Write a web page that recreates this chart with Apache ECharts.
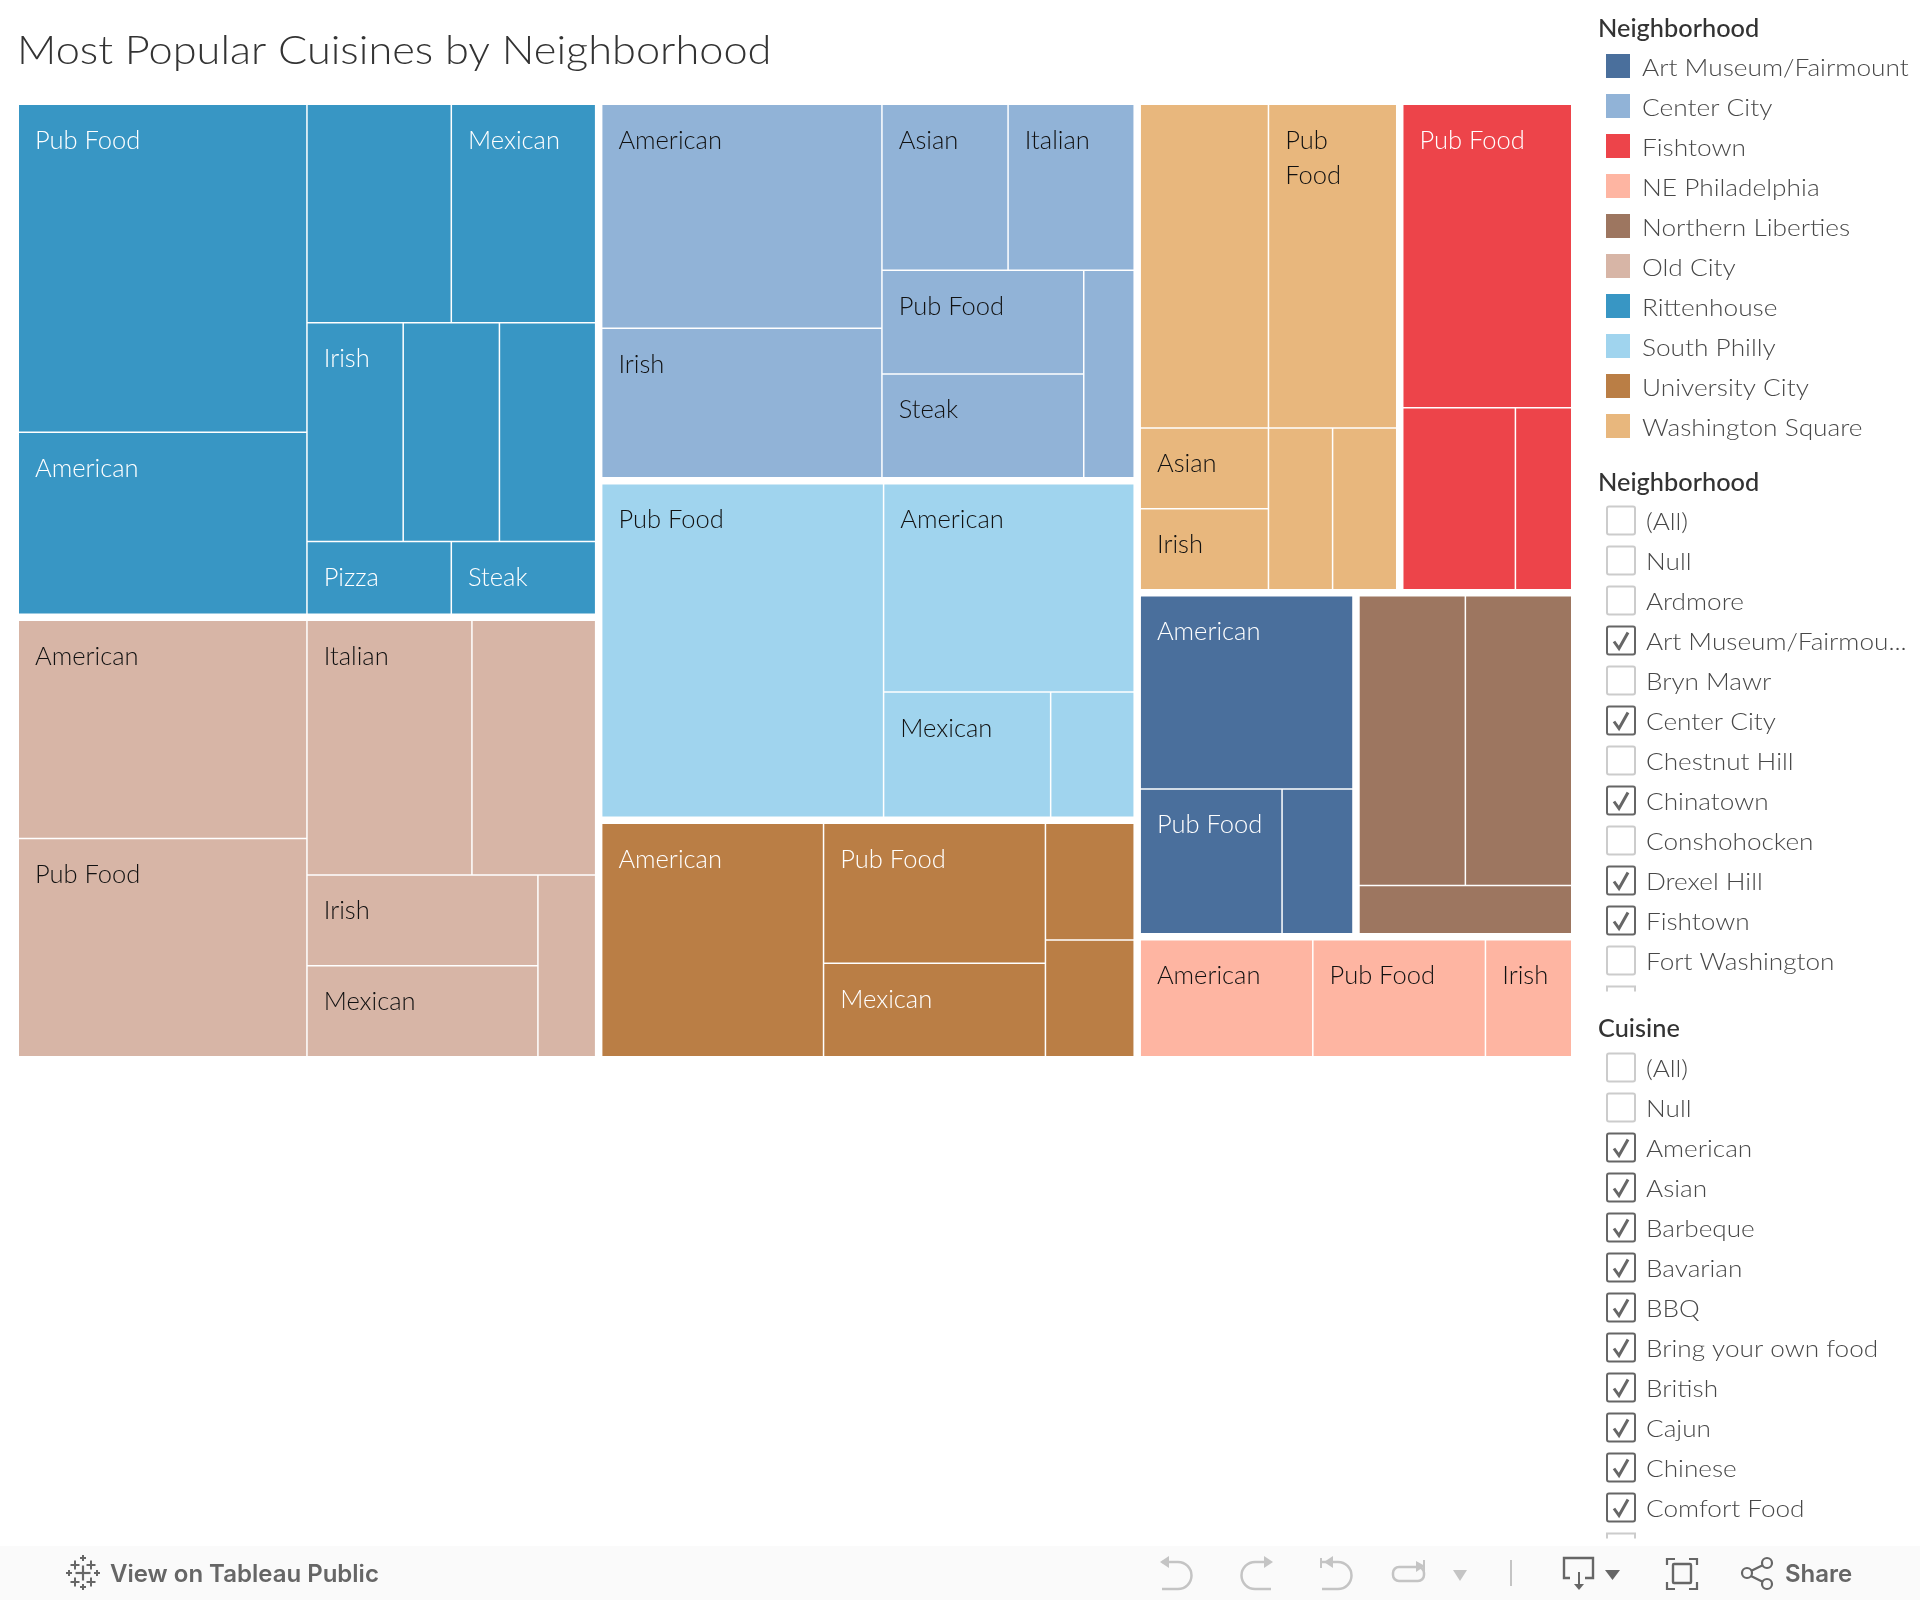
<!DOCTYPE html>
<html><head><meta charset="utf-8">
<style>html,body{margin:0;padding:0;background:#fff}#c{width:1920px;height:1600px}</style>
<script src="https://cdn.jsdelivr.net/npm/echarts@6/dist/echarts.min.js"></script>
</head><body><div id="c"></div>
<script>
const chartTitle = 'Most Popular Cuisines by Neighborhood';
// Treemap: counts per cuisine; '' = cell without a visible label
const rittenhouseNames = ['Pub Food','American','','Mexican','Irish','','','Pizza','Steak'];
const rittenhouseValues = [9,5,3,3,2,2,2,1,1];
const oldCityNames = ['American','Pub Food','Italian','','Irish','Mexican',''];
const oldCityValues = [6,6,4,3,2,2,1];
const centerCityNames = ['American','Irish','Asian','Italian','Pub Food','Steak',''];
const centerCityValues = [6,4,2,2,2,2,1];
const southPhillyNames = ['Pub Food','American','Mexican',''];
const southPhillyValues = [9,5,2,1];
const universityCityNames = ['American','Pub Food','Mexican','',''];
const universityCityValues = [5,3,2,1,1];
const washingtonSquareNames = ['','Pub\nFood','Asian','Irish','',''];
const washingtonSquareValues = [4,4,1,1,1,1];
const fishtownNames = ['Pub Food','',''];
const fishtownValues = [5,2,1];
const artMuseumNames = ['American','Pub Food',''];
const artMuseumValues = [4,2,1];
const northernLibertiesNames = ['','',''];
const northernLibertiesValues = [3,3,1];
const nePhiladelphiaNames = ['American','Pub Food','Irish'];
const nePhiladelphiaValues = [2,2,1];

const groupOrder = [
  ['Rittenhouse', rittenhouseNames, rittenhouseValues, '#3896c4', '#ffffff'],
  ['Old City', oldCityNames, oldCityValues, '#d7b5a6', '#111111'],
  ['Center City', centerCityNames, centerCityValues, '#91b3d7', '#111111'],
  ['South Philly', southPhillyNames, southPhillyValues, '#a0d4ee', '#111111'],
  ['University City', universityCityNames, universityCityValues, '#ba7e45', '#ffffff'],
  ['Washington Square', washingtonSquareNames, washingtonSquareValues, '#e8b77d', '#111111'],
  ['Fishtown', fishtownNames, fishtownValues, '#ed444a', '#ffffff'],
  ['Art Museum/Fairmount', artMuseumNames, artMuseumValues, '#4a6f9c', '#ffffff'],
  ['Northern Liberties', northernLibertiesNames, northernLibertiesValues, '#9d7660', '#ffffff'],
  ['NE Philadelphia', nePhiladelphiaNames, nePhiladelphiaValues, '#feb5a2', '#111111']
];

const legendTitle = 'Neighborhood';
const legendNames = ['Art Museum/Fairmount','Center City','Fishtown','NE Philadelphia','Northern Liberties','Old City','Rittenhouse','South Philly','University City','Washington Square'];
const legendColors = ['#4a6f9c','#91b3d7','#ed444a','#feb5a2','#9d7660','#d7b5a6','#3896c4','#a0d4ee','#ba7e45','#e8b77d'];
const filter1Title = 'Neighborhood';
const filter1Names = ['(All)','Null','Ardmore','Art Museum/Fairmou...','Bryn Mawr','Center City','Chestnut Hill','Chinatown','Conshohocken','Drexel Hill','Fishtown','Fort Washington'];
const filter1Checked = [0,0,0,1,0,1,0,1,0,1,1,0];
const filter2Title = 'Cuisine';
const filter2Names = ['(All)','Null','American','Asian','Barbeque','Bavarian','BBQ','Bring your own food','British','Cajun','Chinese','Comfort Food'];
const filter2Checked = [0,0,1,1,1,1,1,1,1,1,1,1];

const F = 'Lato, "Open Sans", sans-serif';
const F2 = 'Inter, Roboto, sans-serif';
const G = [];
function text(t,x,y,size,fill,weight,sx,align,fam){
  G.push({type:'text',x:x,y:y,scaleX:sx||1,silent:true,style:{text:t,x:0,y:0,font:(weight||400)+' '+size+'px '+(fam||F),fill:fill,textAlign:align||'left',textVerticalAlign:'middle'}});
}
function line(pts,stroke,w,fill){
  G.push({type:'polyline',silent:true,shape:{points:pts},style:{stroke:stroke,lineWidth:w,fill:fill||null}});
}
function arc(cx,cy,r,a0,a1,stroke,w){
  G.push({type:'arc',silent:true,shape:{cx:cx,cy:cy,r:r,startAngle:a0,endAngle:a1,clockwise:true},style:{stroke:stroke,lineWidth:w,fill:null}});
}
function poly(pts,fill){
  G.push({type:'polygon',silent:true,shape:{points:pts},style:{fill:fill}});
}
function box(x,y,w,h,r,stroke,lw,fill){
  G.push({type:'rect',silent:true,shape:{x:x,y:y,width:w,height:h,r:r},style:{stroke:stroke,lineWidth:lw,fill:fill||null}});
}
// title
text(chartTitle,17,51,40,'#333333',300,1.083);
// colour legend
text(legendTitle,1598,29,24,'#333333',500,1.056);
legendNames.forEach((n,i)=>{
  G.push({type:'rect',silent:true,shape:{x:1606,y:54+40*i,width:24,height:24},style:{fill:legendColors[i]}});
  text(n,1642,68+40*i,24,'#484848',300,1.095);
});
// filters
function checklist(title,titleY,y0,names,checked){
  text(title,1598,titleY,24,'#333333',500,1.056);
  names.forEach((n,i)=>{
    const c=y0+40*i;
    box(1607,c-14,28,28,2,checked[i]?'#666666':'#cccccc',2,'#ffffff');
    if(checked[i]) line([[1614,c+1],[1619,c+8],[1628,c-8]],'#666666',3);
    text(n,1646,c+2,24,'#484848',300,1.09);
  });
  const y=y0+40*names.length-14;
  line([[1607,y+5],[1607,y],[1635,y],[1635,y+5]],'#cccccc',2);
}
checklist(filter1Title,483,520.5,filter1Names,filter1Checked);
checklist(filter2Title,1029,1067.5,filter2Names,filter2Checked);
// toolbar
G.push({type:'rect',silent:true,z:5,shape:{x:0,y:1546,width:1920,height:54},style:{fill:'#fafafa'}});
const gz=G.length;
function cross(cx,cy,a,w){line([[cx-a,cy],[cx+a,cy]],'#666666',w);line([[cx,cy-a],[cx,cy+a]],'#666666',w);}
cross(83,1573,7.5,2.2);
[[75,1565],[91,1565],[75,1582],[91,1582]].forEach(p=>cross(p[0],p[1],4.5,2));
[[83,1558],[83,1587],[69,1573],[97,1573]].forEach(p=>cross(p[0],p[1],3,2));
text('View on Tableau Public',110,1575,24,'#666666',600,1,'left',F2);
const off='#c4c4c4', on='#666666';
const P=Math.PI;
// undo
line([[1162,1562],[1178,1562]],off,2.5); arc(1178,1575.5,13.5,-P/2,P/2,off,2.5); line([[1178,1589],[1162,1589]],off,2.5);
poly([[1160,1562],[1169,1556],[1169,1568]],off);
// redo
line([[1270,1562],[1255,1562]],off,2.5); arc(1255,1575.5,13.5,P/2,-P/2,off,2.5); line([[1255,1589],[1271,1589]],off,2.5);
poly([[1273,1562],[1264,1556],[1264,1568]],off);
// undo all
line([[1322,1562],[1338,1562]],off,2.5); arc(1338,1575.5,13.5,-P/2,P/2,off,2.5); line([[1338,1589],[1322,1589]],off,2.5);
poly([[1324,1562],[1333,1556],[1333,1568]],off); line([[1321,1558],[1321,1568]],off,2);
// redo all
box(1393,1567,31,14,6,off,2.5); poly([[1425,1566],[1416,1561],[1416,1572]],off); line([[1424,1560],[1424,1572]],off,2);
poly([[1453,1570],[1467,1570],[1460,1581]],off);
// separator
line([[1511,1560],[1511,1586]],off,2);
// download
line([[1570,1578],[1564,1578],[1564,1558],[1593,1558],[1593,1578],[1585,1578]],on,2.4);
line([[1579,1572],[1579,1584]],on,2); poly([[1574,1584],[1584,1584],[1579,1590]],on);
poly([[1605,1570],[1620,1570],[1612.5,1580]],on);
// fullscreen
box(1673,1564,18,19,1,on,2.4);
line([[1667,1565],[1667,1559],[1675,1559]],on,2.2); line([[1689,1559],[1697,1559],[1697,1565]],on,2.2);
line([[1667,1582],[1667,1589],[1675,1589]],on,2.2); line([[1689,1589],[1697,1589],[1697,1582]],on,2.2);
// share
line([[1751,1571],[1763,1565]],on,2.2); line([[1751,1576],[1763,1582]],on,2.2);
box(1742,1568,10,10,5,on,2.2); box(1762,1558,10,10,5,on,2.2); box(1762,1579,10,10,5,on,2.2);
text('Share',1785,1575,24,'#666666',600,1,'left',F2);
for(let i=gz;i<G.length;i++) G[i].z=6;

const treeData = groupOrder.map(g=>({
  name:g[0],
  itemStyle:{color:g[3]},
  children:g[1].map((n,i)=>({name:n,value:g[2][i],itemStyle:{color:g[3]},label:{color:g[4]}}))
}));

const chart = echarts.init(document.getElementById('c'),null,{renderer:'canvas'});
chart.setOption({
  animation:false,
  backgroundColor:'#ffffff',
  tooltip:{show:false},
  graphic:{elements:G},
  series:[{
    type:'treemap',
    left:19,top:105,width:1552,height:951,
    roam:false,nodeClick:false,
    breadcrumb:{show:false},
    sort:false,
    squareRatio:0.5*(1+Math.sqrt(5)),
    visibleMin:0,
    animation:false,
    label:{show:true,position:[11,13],fontFamily:F,fontSize:25.5,fontWeight:300,lineHeight:35,overflow:'none'},
    upperLabel:{show:false},
    levels:[
      {itemStyle:{gapWidth:7.5,borderWidth:0}},
      {itemStyle:{gapWidth:1.5,borderWidth:0}},
      {itemStyle:{borderWidth:0}}
    ],
    data:treeData
  }]
});
</script></body></html>
